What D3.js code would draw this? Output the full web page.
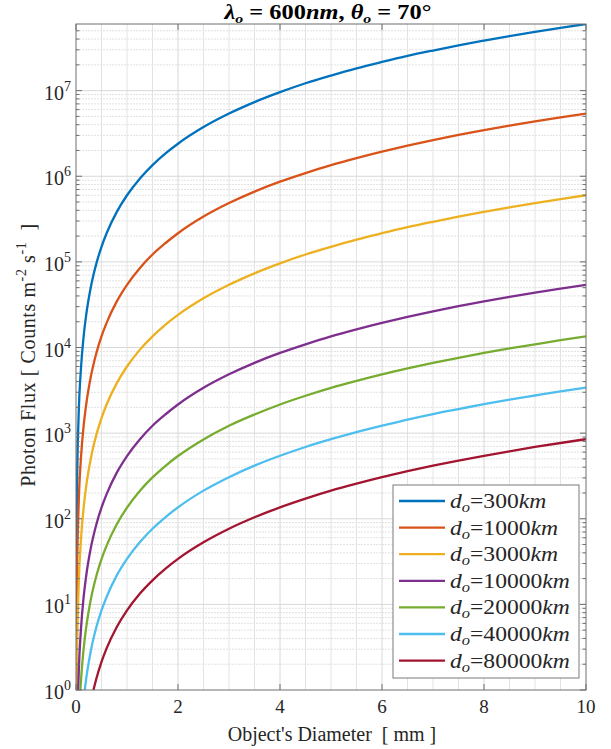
<!DOCTYPE html>
<html><head><meta charset="utf-8">
<script src="https://cdn.jsdelivr.net/npm/d3@7"></script>
<style>body{margin:0;background:#fff}svg{display:block}</style>
</head><body>
<svg id="c" width="611" height="749"></svg>
<script>
// ---- data ----
const diameters = [0.001,0.002,0.005,0.01,0.02,0.05,0.1,0.15,0.2,0.3,0.4,0.5,0.6,0.8,1,1.25,1.5,1.75,2,2.5,3,3.5,4,4.5,5,5.5,6,6.5,7,7.5,8,8.5,9,9.5,10];
const flux300   = [0.6,2.4,15,60,240,1500,6000,13500,24000,54000,96000,150000,216000,384000,600000,938000,1.35e6,1.84e6,2.4e6,3.75e6,5.4e6,7.35e6,9.6e6,1.22e7,1.5e7,1.82e7,2.16e7,2.54e7,2.94e7,3.38e7,3.84e7,4.34e7,4.86e7,5.42e7,6.0e7];
const flux1000  = [0.054,0.216,1.35,5.4,21.6,135,540,1220,2160,4860,8640,13500,19400,34600,54000,84400,122000,165000,216000,338000,486000,662000,864000,1.09e6,1.35e6,1.63e6,1.94e6,2.28e6,2.65e6,3.04e6,3.46e6,3.90e6,4.37e6,4.87e6,5.4e6];
const flux3000  = [0.006,0.024,0.15,0.6,2.4,15,60,135,240,540,960,1500,2160,3840,6000,9380,13500,18400,24000,37500,54000,73500,96000,122000,150000,182000,216000,254000,294000,338000,384000,434000,486000,542000,600000];
const flux10000 = [5.4e-4,2.16e-3,0.0135,0.054,0.216,1.35,5.4,12.2,21.6,48.6,86.4,135,194,346,540,844,1220,1650,2160,3380,4860,6620,8640,10900,13500,16300,19400,22800,26500,30400,34600,39000,43700,48700,54000];
const flux20000 = [1.35e-4,5.4e-4,3.38e-3,0.0135,0.054,0.338,1.35,3.04,5.4,12.2,21.6,33.8,48.6,86.4,135,211,304,413,540,844,1220,1650,2160,2730,3380,4080,4860,5700,6620,7590,8640,9750,10900,12200,13500];
const flux40000 = [3.4e-5,1.36e-4,8.5e-4,3.4e-3,0.0136,0.085,0.34,0.765,1.36,3.06,5.44,8.5,12.2,21.8,34,53.1,76.5,104,136,213,306,417,544,689,850,1030,1220,1440,1670,1910,2180,2460,2750,3070,3400];
const flux80000 = [8.5e-6,3.4e-5,2.1e-4,8.5e-4,3.4e-3,0.0213,0.085,0.191,0.34,0.765,1.36,2.13,3.06,5.44,8.5,13.3,19.1,26.0,34,53.1,76.5,104,136,172,213,257,306,359,417,478,544,614,689,767,850];
const distances = ["300","1000","3000","10000","20000","40000","80000"];
const seriesValues = [flux300,flux1000,flux3000,flux10000,flux20000,flux40000,flux80000];
const colors = ["#0072BD","#D95319","#EDB120","#7E2F8E","#77AC30","#4DBEEE","#A2142F"];
const xTicks = [0,2,4,6,8,10];
const yTickExps = [0,1,2,3,4,5,6,7];

// ---- layout ----
const W = 611, H = 749;
const m = {l:76, r:25, t:24, b:59};
const pw = W - m.l - m.r, ph = H - m.t - m.b;
const svg = d3.select("#c");
const FONT = "'Liberation Serif','Times New Roman',serif";
const TXT = "#262626";

const x = d3.scaleLinear().domain([0,10]).range([m.l, m.l+pw]);
const y = d3.scaleLog().domain([1, 6.0e7]).range([m.t+ph, m.t]);

svg.append("defs").append("clipPath").attr("id","clip")
  .append("rect").attr("x",m.l).attr("y",m.t).attr("width",pw).attr("height",ph);

const g = svg.append("g");

// grid: minor
const xMinor = d3.range(0.5,10,0.5).filter(v=>v%2!==0);
const yMinor = [];
for (let e=0;e<8;e++) for (let k=2;k<=9;k++){ const v=k*Math.pow(10,e); if (v<6.0e7) yMinor.push(v); }
g.selectAll(".vxm").data(xMinor).enter().append("line")
  .attr("x1",d=>x(d)).attr("x2",d=>x(d)).attr("y1",m.t).attr("y2",m.t+ph)
  .attr("stroke","#e3e3e3").attr("stroke-width",1);
g.selectAll(".hym").data(yMinor).enter().append("line")
  .attr("x1",m.l).attr("x2",m.l+pw).attr("y1",d=>y(d)).attr("y2",d=>y(d))
  .attr("stroke","#e2e2e2").attr("stroke-width",1).attr("stroke-dasharray","2,1");
// grid: major
g.selectAll(".vx").data(xTicks.slice(1,-1)).enter().append("line")
  .attr("x1",d=>x(d)).attr("x2",d=>x(d)).attr("y1",m.t).attr("y2",m.t+ph)
  .attr("stroke","#d8d8d8").attr("stroke-width",1);
g.selectAll(".hy").data(yTickExps.slice(1)).enter().append("line")
  .attr("x1",m.l).attr("x2",m.l+pw).attr("y1",d=>y(Math.pow(10,d))).attr("y2",d=>y(Math.pow(10,d)))
  .attr("stroke","#d8d8d8").attr("stroke-width",1);

// curves
const line = d3.line().x(d=>x(d.D)).y(d=>y(d.F)).curve(d3.curveMonotoneX);
const series = seriesValues.map((vals,i)=>({name:distances[i], color:colors[i],
  pts: diameters.map((D,j)=>({D, F: vals[j]}))}));
g.append("g").attr("clip-path","url(#clip)").selectAll("path").data(series).enter().append("path")
  .attr("d",d=>line(d.pts)).attr("fill","none").attr("stroke",d=>d.color).attr("stroke-width",2.3);

// axes box
const AX = "#6e6e6e";
g.append("rect").attr("x",m.l).attr("y",m.t).attr("width",pw).attr("height",ph)
  .attr("fill","none").attr("stroke",AX).attr("stroke-width",1);

// ticks (inside)
const tk = g.append("g").attr("stroke",AX).attr("stroke-width",1);
xTicks.forEach(v=>{
  tk.append("line").attr("x1",x(v)).attr("x2",x(v)).attr("y1",m.t+ph).attr("y2",m.t+ph-6);
  tk.append("line").attr("x1",x(v)).attr("x2",x(v)).attr("y1",m.t).attr("y2",m.t+6);
});
yTickExps.forEach(e=>{
  const yy=y(Math.pow(10,e));
  tk.append("line").attr("x1",m.l).attr("x2",m.l+6).attr("y1",yy).attr("y2",yy);
  tk.append("line").attr("x1",m.l+pw).attr("x2",m.l+pw-6).attr("y1",yy).attr("y2",yy);
});
yMinor.forEach(v=>{
  const yy=y(v);
  tk.append("line").attr("x1",m.l).attr("x2",m.l+3.5).attr("y1",yy).attr("y2",yy);
  tk.append("line").attr("x1",m.l+pw).attr("x2",m.l+pw-3.5).attr("y1",yy).attr("y2",yy);
});

// tick labels
g.selectAll(".xl").data(xTicks).enter().append("text")
  .attr("x",d=>x(d)).attr("y",m.t+ph+23).attr("text-anchor","middle")
  .attr("font-family",FONT).attr("font-size",19).attr("fill",TXT).text(d=>d);
yTickExps.forEach(e=>{
  const t = g.append("text").attr("x",m.l-5).attr("y",y(Math.pow(10,e))+9)
    .attr("text-anchor","end").attr("font-family",FONT).attr("font-size",20).attr("fill",TXT);
  t.append("tspan").text("10");
  t.append("tspan").attr("dy",-9).attr("font-size",14).text(e);
});

// axis labels
svg.append("text").attr("x",m.l+pw/2+1).attr("y",741).attr("text-anchor","middle")
  .attr("font-family",FONT).attr("font-size",20).attr("fill",TXT)
  .attr("xml:space","preserve").text("Object's Diameter  [ mm ]");
const yl = svg.append("text").attr("transform",`translate(35,${m.t+ph/2-2}) rotate(-90)`)
  .attr("text-anchor","middle").attr("font-family",FONT).attr("font-size",20).attr("fill",TXT)
  .attr("xml:space","preserve").attr("letter-spacing",0.6);
yl.append("tspan").text("Photon Flux [ Counts m");
yl.append("tspan").attr("dy",-9).attr("font-size",14).text("-2");
yl.append("tspan").attr("dy",9).text(" s");
yl.append("tspan").attr("dy",-9).attr("font-size",14).text("-1");
yl.append("tspan").attr("dy",9).text("  ]");

// title
const tt = svg.append("text").attr("transform",`translate(${m.l+pw/2-3},19) scale(1.22,1)`)
  .attr("text-anchor","middle")
  .attr("font-family",FONT).attr("font-size",20).attr("font-weight","bold").attr("fill","#000")
  .attr("xml:space","preserve");
tt.append("tspan").attr("font-style","italic").text("λ");
tt.append("tspan").attr("font-style","italic").attr("font-size",13).attr("dy",4).text("o");
tt.append("tspan").attr("dy",-4).text(" = 600");
tt.append("tspan").attr("font-style","italic").text("nm");
tt.append("tspan").text(", ");
tt.append("tspan").attr("font-style","italic").text("θ");
tt.append("tspan").attr("font-style","italic").attr("font-size",13).attr("dy",4).text("o");
tt.append("tspan").attr("dy",-4).text(" = 70°");

// legend
const lgR = m.l+pw-7, lgB = m.t+ph-12, lgW = 186, lgH = 193;
const lg = svg.append("g");
lg.append("rect").attr("x",lgR-lgW).attr("y",lgB-lgH).attr("width",lgW).attr("height",lgH)
  .attr("fill","#fff").attr("stroke","#7a7a7a").attr("stroke-width",1);
series.forEach((s,i)=>{
  const yy = lgB-lgH+16+i*26.6;
  lg.append("line").attr("x1",lgR-lgW+6).attr("x2",lgR-lgW+52).attr("y1",yy).attr("y2",yy)
    .attr("stroke",s.color).attr("stroke-width",2.3);
  const t = lg.append("text").attr("transform",`translate(${lgR-lgW+57},${yy+7}) scale(1.18,1)`)
    .attr("font-family",FONT).attr("font-size",20).attr("fill",TXT);
  t.append("tspan").attr("font-style","italic").text("d");
  t.append("tspan").attr("font-style","italic").attr("font-size",14).attr("dy",4).text("o");
  t.append("tspan").attr("dy",-4).text("=" + s.name);
  t.append("tspan").attr("font-style","italic").text("km");
});
</script>
</body></html>
